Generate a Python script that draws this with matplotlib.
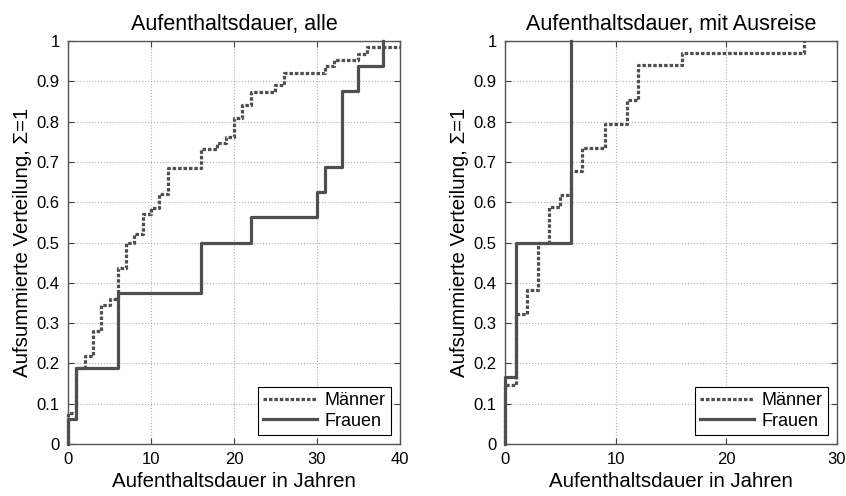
import numpy as np
import matplotlib
matplotlib.use('Agg')
import matplotlib.pyplot as plt

plt.rcParams.update({'font.family': ['Liberation Sans', 'DejaVu Sans'], 'font.size': 12})

# left panel: all persons (step positions in years, cumulative share)
alle_maenner_x = [0, 0, 1, 2, 3, 4, 5, 6, 7, 8, 9, 10, 11, 12, 16, 18, 19, 20, 21, 22, 25, 26, 31, 32, 35, 36, 40]
alle_maenner_y = [0, 0.078, 0.1875, 0.219, 0.281, 0.344, 0.359, 0.4375, 0.50, 0.52, 0.57, 0.586, 0.62, 0.684,
                  0.731, 0.747, 0.763, 0.81, 0.842, 0.874, 0.89, 0.921, 0.937, 0.953, 0.969, 0.985, 0.985]
alle_frauen_x = [0, 0, 1, 6, 16, 22, 30, 31, 33, 35, 38]
alle_frauen_y = [0, 1/16, 3/16, 6/16, 8/16, 9/16, 10/16, 11/16, 14/16, 15/16, 1]

# right panel: persons who left again
aus_maenner_x = [0, 0, 1, 2, 3, 4, 5, 6, 7, 9, 11, 12, 16, 27]
aus_maenner_y = [0, 5/34, 11/34, 13/34, 17/34, 20/34, 21/34, 23/34, 25/34, 27/34, 29/34, 32/34, 33/34, 1]
aus_frauen_x = [0, 0, 1, 6]
aus_frauen_y = [0, 1/6, 3/6, 1]

titles = ['Aufenthaltsdauer, alle', 'Aufenthaltsdauer, mit Ausreise']
xlims = [40, 30]
xlabel = 'Aufenthaltsdauer in Jahren'
ylabel = 'Aufsummierte Verteilung, \u03a3=1'

col = '#4f4f4f'

fig = plt.figure(figsize=(8.46, 4.96), dpi=100)
ax1 = fig.add_axes([0.0804, 0.1048, 0.3924, 0.8125])
ax2 = fig.add_axes([0.5969, 0.1048, 0.3924, 0.8125])

data = [(alle_maenner_x, alle_maenner_y, alle_frauen_x, alle_frauen_y),
        (aus_maenner_x, aus_maenner_y, aus_frauen_x, aus_frauen_y)]

for i, ax in enumerate([ax1, ax2]):
    mx, my, fx, fy = data[i]
    ax.plot(mx, my, drawstyle='steps-post', color=col, lw=2.3,
            linestyle=(0, (1.1, 0.6)), label='M\u00e4nner', clip_on=False, zorder=3)
    ax.plot(fx, fy, drawstyle='steps-post', color=col, lw=2.3,
            label='Frauen', clip_on=False, zorder=3)
    ax.set_xlim(0, xlims[i])
    ax.set_ylim(0, 1)
    ax.set_xticks(np.arange(0, xlims[i] + 1, 10))
    ax.set_yticks(np.arange(0, 1.01, 0.1))
    ax.set_yticklabels(['0'] + ['%.1f' % v for v in np.arange(0.1, 0.95, 0.1)] + ['1'])
    ax.grid(True, linestyle=':', color='#b0b0b0', lw=0.8)
    ax.tick_params(direction='in', top=True, right=True, length=4, color='#404040', labelsize=12, pad=6)
    for s in ax.spines.values():
        s.set_color('#555555')
        s.set_linewidth(1.0)
    ax.set_title(titles[i], fontsize=15.5, pad=8)
    ax.set_xlabel(xlabel, fontsize=14.7, labelpad=3)
    ax.set_ylabel(ylabel, fontsize=14.7, labelpad=3)
    leg = ax.legend(loc='lower right', fontsize=13, fancybox=False, framealpha=1,
                    edgecolor='black', handlelength=3.0, borderaxespad=0.5,
                    handletextpad=0.4, labelspacing=0.2, borderpad=0.3)
    leg.get_frame().set_linewidth(0.8)

fig.savefig('out.png', dpi=100)
